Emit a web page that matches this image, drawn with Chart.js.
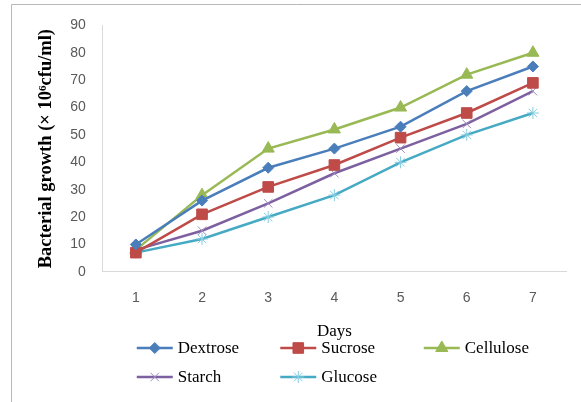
<!DOCTYPE html>
<html>
<head>
<meta charset="utf-8">
<script src="https://cdn.jsdelivr.net/npm/chart.js@4"></script>
<style>
  html, body { margin: 0; padding: 0; background: #fff; }
  canvas { display: block; }
</style>
</head>
<body>
<canvas id="growthChart" width="581" height="402"></canvas>
<script>
const days = ['1', '2', '3', '4', '5', '6', '7'];
const dextrose = [10, 26, 38, 45, 53, 66, 75];
const sucrose = [7, 21, 31, 39, 49, 58, 69];
const cellulose = [8, 28, 45, 52, 60, 72, 80];
const starch = [8, 15, 25, 36, 45, 54, 66];
const glucose = [7, 12, 20, 28, 40, 50, 58];

const serif = '"Liberation Serif", "Times New Roman", serif';
const sans = '"Liberation Sans", Arial, sans-serif';

function series(label, data, color, markerColor, style, radius, markerWidth) {
    return {
        label: label,
        data: data,
        borderColor: color,
        backgroundColor: markerColor,
        borderWidth: 2.5,
        tension: 0,
        pointStyle: style,
        pointRadius: radius,
        pointHoverRadius: radius,
        pointBackgroundColor: markerColor,
        pointBorderColor: markerColor,
        pointBorderWidth: markerWidth,
    };
}

// outer frame of the figure (only top and left edges fall inside the view)
const framePlugin = {
    id: 'frame',
    beforeDraw(chart) {
        const ctx = chart.ctx;
        ctx.save();
        ctx.strokeStyle = '#b8b8b8';
        ctx.lineWidth = 1;
        ctx.beginPath();
        ctx.moveTo(11.5, chart.height);
        ctx.lineTo(11.5, 4.5);
        ctx.lineTo(chart.width, 4.5);
        ctx.stroke();
        ctx.restore();
    }
};

// legend laid out in a 3-column grid under the axis title
const gridLegend = {
    id: 'gridLegend',
    afterDraw(chart) {
        const ctx = chart.ctx;
        const left = chart.chartArea.left + 34;
        const colWidth = 143.5;
        const top = 348;
        const rowHeight = 29;
        chart.data.datasets.forEach((ds, i) => {
            const x = left + (i % 3) * colWidth;
            const y = top + Math.floor(i / 3) * rowHeight;
            ctx.save();
            ctx.strokeStyle = ds.borderColor;
            ctx.lineWidth = ds.borderWidth;
            ctx.beginPath();
            ctx.moveTo(x, y);
            ctx.lineTo(x + 36, y);
            ctx.stroke();
            ctx.fillStyle = ds.pointBackgroundColor;
            ctx.strokeStyle = ds.pointBorderColor;
            ctx.lineWidth = ds.pointBorderWidth;
            Chart.helpers.drawPoint(ctx, {
                pointStyle: ds.pointStyle,
                radius: ds.pointRadius,
                rotation: 0,
                borderWidth: ds.pointBorderWidth
            }, x + 18, y);
            ctx.fillStyle = '#000';
            ctx.font = '17px ' + serif;
            ctx.textBaseline = 'middle';
            ctx.textAlign = 'left';
            ctx.fillText(ds.label, x + 41, y + 1);
            ctx.restore();
        });
    }
};

const ctx = document.getElementById('growthChart').getContext('2d');
new Chart(ctx, {
    type: 'line',
    data: {
        labels: days,
        datasets: [
            series('Dextrose', dextrose, '#4a7ebb', '#4a7ebb', 'rectRot', 5.5, 1),
            series('Sucrose', sucrose, '#be4b48', '#be4b48', 'rect', 7.5, 1),
            series('Cellulose', cellulose, '#98b954', '#98b954', 'triangle', 7, 1),
            series('Starch', starch, '#7d60a0', '#a08cc0', 'crossRot', 6, 1),
            series('Glucose', glucose, '#46aac5', '#86cde0', 'star', 6, 1),
        ],
    },
    options: {
        responsive: false,
        animation: false,
        layout: {
            padding: { left: 21, right: 15, top: 24, bottom: 60 }
        },
        plugins: {
            legend: { display: false },
            tooltip: { enabled: false },
        },
        scales: {
            x: {
                offset: true,
                grid: { display: false, drawTicks: false },
                border: { display: true, color: '#d9d9d9', width: 1 },
                ticks: {
                    color: '#595959',
                    padding: 18,
                    font: { family: sans, size: 14 }
                },
                title: {
                    display: true,
                    text: 'Days',
                    color: '#000',
                    padding: { top: -3, bottom: 0 },
                    font: { family: serif, size: 17 }
                }
            },
            y: {
                min: 0,
                max: 90,
                grid: { display: false, drawTicks: false },
                border: { display: true, color: '#d9d9d9', width: 1 },
                ticks: {
                    stepSize: 10,
                    color: '#595959',
                    padding: 17,
                    font: { family: sans, size: 14 }
                },
                title: {
                    display: true,
                    text: 'Bacterial growth (\u00d7 10\u2076cfu/ml)',
                    color: '#000',
                    padding: { top: 14, bottom: -4 },
                    font: { family: serif, size: 18.5, weight: 'bold' }
                }
            }
        }
    },
    plugins: [framePlugin, gridLegend]
});
</script>
</body>
</html>
